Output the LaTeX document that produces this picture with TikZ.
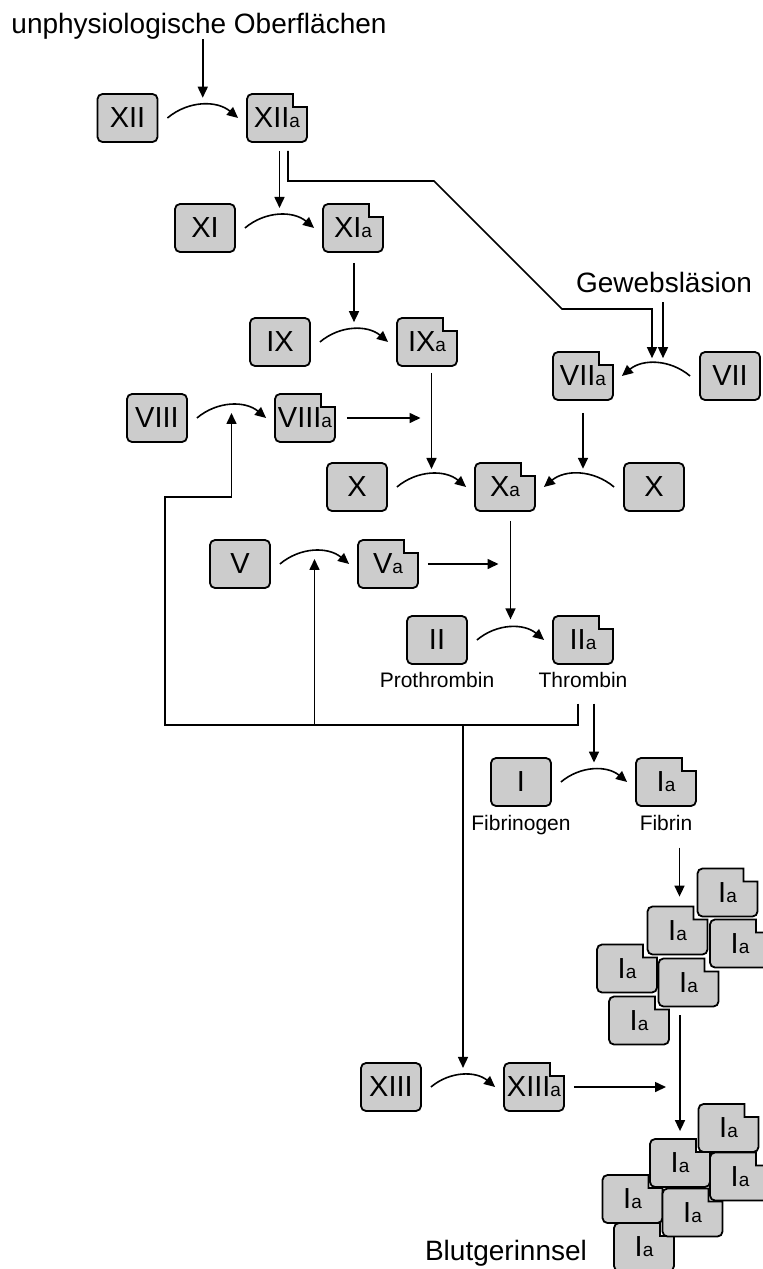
\documentclass[tikz,border=0pt]{standalone}
\usepackage{fontspec}
\setmainfont{Liberation Sans}
\usepackage{xcolor}
\usetikzlibrary{arrows.meta, positioning, calc}

\definecolor{factorgray}{RGB}{204,204,204}
\newcommand{\aidx}{{\fontsize{19}{19}\selectfont a}}
% activated factor: box with a notch in the upper right corner
\newcommand{\activefactor}[3]{%
  \filldraw[factorline, shift={(#2)}] (-25,24) -- (16,24) -- (16,11) -- (30,11) -- (30,-19)
    arc[start angle=0, end angle=-90, radius=5] -- (-25,-24)
    arc[start angle=270, end angle=180, radius=5] -- (-30,19)
    arc[start angle=180, end angle=90, radius=5] -- cycle;
  \node[factor, draw=none, fill=none] (#1) at (#2) {#3};
}

\begin{document}
\begin{tikzpicture}[x=1pt, y=1pt]
      % Styles
      \tikzset{
        factorline/.style={fill=factorgray, draw, line width=1.8pt},
        factor/.style={factorline, rectangle, rounded corners=5pt, minimum width=60pt, minimum height=48pt, inner sep=0pt, font=\fontsize{29}{29}\selectfont},
        caption/.style={inner sep=0pt, font=\fontsize{21}{21}\selectfont},
        heading/.style={inner sep=0pt, font=\fontsize{28}{28}\selectfont},
        arrow/.style={-{Triangle[length=11pt, width=10pt]}, line width=1.6pt},
        convert/.style={arrow, bend left=40}
      }
      \useasboundingbox (0,0) rectangle (763,-1269);

      % Nodes
      \node[heading, anchor=base] (surface) at (199,-33) {unphysiologische Oberflächen};
      \node[heading, anchor=base] (lesion) at (664,-292) {Gewebsläsion};
      \node[heading, anchor=base] (clot) at (506,-1260) {Blutgerinnsel};

      \node[factor] (XII) at (127.5,-118) {XII};
      \activefactor{XIIa}{277,-118}{XII\aidx}
      \node[factor] (XI) at (205,-228) {XI};
      \activefactor{XIa}{353,-228}{XI\aidx}
      \node[factor] (IX) at (280,-342) {IX};
      \activefactor{IXa}{427,-342}{IX\aidx}
      \node[factor] (VIII) at (157,-418) {VIII};
      \activefactor{VIIIa}{305,-418}{VIII\aidx}
      \activefactor{VIIa}{583,-376}{VII\aidx}
      \node[factor] (VII) at (730,-376) {VII};
      \node[factor] (Xl) at (357,-487) {X};
      \activefactor{Xa}{505,-487}{X\aidx}
      \node[factor] (Xr) at (654,-487) {X};
      \node[factor] (V) at (240,-564) {V};
      \activefactor{Va}{388,-564}{V\aidx}
      \node[factor] (II) at (437,-640) {II};
      \activefactor{IIa}{583,-640}{II\aidx}
      \node[caption, below=7pt of II] (prothrombin) {Prothrombin};
      \node[caption, below=7pt of IIa] (thrombin) {Thrombin};
      \node[factor] (I) at (521,-782) {I};
      \activefactor{Ia}{666,-782}{I\aidx}
      \node[caption, below=8pt of I] (fibrinogen) {Fibrinogen};
      \node[caption, below=8pt of Ia] (fibrin) {Fibrin};
      \node[factor] (XIII) at (391,-1087) {XIII};
      \activefactor{XIIIa}{534,-1087}{XIII\aidx}

      % Fibrin clusters
      \foreach \n/\p in {f1/{639,-1020.5}, f2/{627,-968.5}, f3/{688.5,-982.5},
                         f4/{677.5,-930.5}, f5/{740,-943.5}, f6/{727.5,-892.5},
                         g1/{644,-1247}, g2/{632.5,-1199}, g3/{692.5,-1212.5},
                         g4/{680,-1163}, g5/{740,-1176.5}, g6/{728.5,-1128}}
        {\activefactor{\n}{\p}{I\aidx}}

      \coordinate (k1) at (434,-181);
      \coordinate (k2) at (562,-309);
      \coordinate (fbL) at (165,-725);
      \coordinate (fbTurn) at (165,-497);

      % Arrows
      \draw[convert] ($(XII.east)+(9,0)$) to coordinate[pos=0.5] (m12) ($(XIIa.west)+(-8,0)$);
      \draw[convert] ($(XI.east)+(9,0)$) to coordinate[pos=0.5] (m11) ($(XIa.west)+(-8,0)$);
      \draw[convert] ($(IX.east)+(9,0)$) to coordinate[pos=0.5] (m9) ($(IXa.west)+(-8,0)$);
      \draw[convert] ($(VIII.east)+(9,0)$) to coordinate[pos=0.5] (m8) ($(VIIIa.west)+(-8,0)$);
      \draw[arrow, bend right=40] ($(VII.west)+(-9,0)$) to coordinate[pos=0.5] (m7) ($(VIIa.east)+(8,0)$);
      \draw[convert] ($(Xl.east)+(9,0)$) to coordinate[pos=0.5] (m10) ($(Xa.west)+(-8,0)$);
      \draw[arrow, bend right=40] ($(Xr.west)+(-9,0)$) to coordinate[pos=0.5] (m10r) ($(Xa.east)+(8,0)$);
      \draw[convert] ($(V.east)+(9,0)$) to coordinate[pos=0.5] (m5) ($(Va.west)+(-8,0)$);
      \draw[convert] ($(II.east)+(9,0)$) to coordinate[pos=0.5] (m2) ($(IIa.west)+(-8,0)$);
      \draw[convert] ($(I.east)+(9,0)$) to coordinate[pos=0.5] (m1) ($(Ia.west)+(-8,0)$);
      \draw[convert] ($(XIII.east)+(9,0)$) to coordinate[pos=0.5] (m13) ($(XIIIa.west)+(-8,0)$);

      \draw[arrow] (surface.south -| m12) -- ($(m12)+(0,7)$);
      \draw[arrow] ($(m11 |- XIIa.south)+(0,-8)$) -- ($(m11)+(0,7)$);
      \draw[arrow] ($(XIIa.south)+(11,-8)$) |- (k1) -- (k2) -| ($(m7)+(-4,5)$);
      \draw[arrow] ($(m7 |- lesion.south)+(7,-10)$) -- ($(m7)+(7,5)$);
      \draw[arrow] ($(m9 |- XIa.south)+(0,-10)$) -- ($(m9)+(0,7)$);
      \draw[arrow] ($(m10 |- IXa.south)+(0,-6)$) -- ($(m10)+(0,5)$);
      \draw[arrow] ($(VIIa.south)+(0,-12)$) -- ($(VIIa.south |- m10r)+(0,5)$);
      \draw[arrow] ($(VIIIa.east)+(11,0)$) -- ($(VIIIa.east -| m10)+(-11,0)$);
      \draw[arrow] ($(m2 |- Xa.south)+(0,-9)$) -- ($(m2)+(0,8)$);
      \draw[arrow] ($(Va.east)+(9,0)$) -- ($(Va.east -| m2)+(-12,0)$);

      \draw[arrow] ($(thrombin.south)+(-5,-16)$) |- (fbL) -- (fbTurn) -| ($(m8)+(0,-8)$);
      \draw[arrow] (m5 |- fbL) -- ($(m5)+(0,-8)$);
      \draw[arrow] (m13 |- fbL) -- ($(m13)+(0,7)$);
      \draw[arrow] ($(m1 |- thrombin.south)+(0,-16)$) -- ($(m1)+(0,7)$);
      \draw[arrow] ($(fibrin.south -| f4.north)+(2,-17)$) -- ($(f4.north)+(2,9)$);
      \draw[arrow] ($(f3.south -| g4.north)+(0,-8)$) -- ($(g4.north)+(0,7)$);
      \draw[arrow] ($(XIIIa.east)+(9,0)$) -- ($(XIIIa.east -| g4.north)+(-14,0)$);
\end{tikzpicture}
\end{document}
